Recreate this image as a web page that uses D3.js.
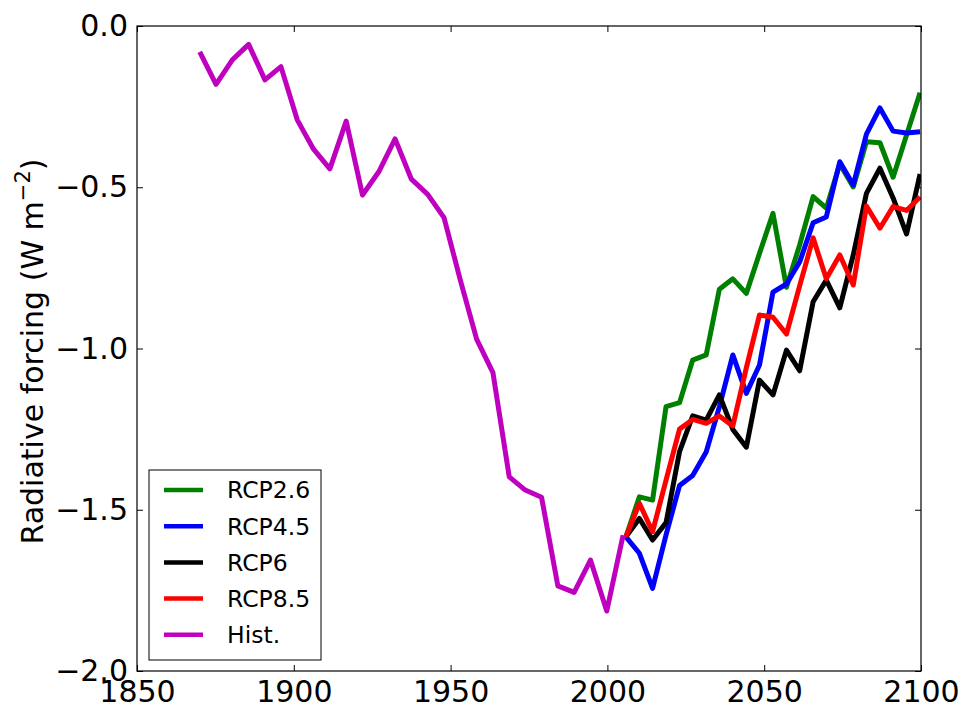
<!DOCTYPE html>
<html>
<head>
<meta charset="utf-8">
<script src="https://cdn.jsdelivr.net/npm/d3@7"></script>
<style>
  body { margin: 0; background: #fff; }
  text { font-family: "DejaVu Sans", sans-serif; }
</style>
</head>
<body>
<div id="container"></div>
<script>
// data
const histYears = [1870.0, 1875.2, 1880.4, 1885.6, 1890.8, 1895.9, 1901.1, 1906.3, 1911.5, 1916.7,
    1921.9, 1927.1, 1932.3, 1937.5, 1942.7, 1947.9, 1953.1, 1958.3, 1963.5, 1968.7,
    1973.8, 1979.0, 1984.2, 1989.4, 1994.6, 1999.8, 2005.0];
const histValues = [-0.080, -0.181, -0.105, -0.057, -0.167, -0.126, -0.291, -0.382, -0.443, -0.295,
    -0.524, -0.452, -0.350, -0.475, -0.522, -0.594, -0.788, -0.971, -1.075, -1.398,
    -1.439, -1.461, -1.736, -1.756, -1.656, -1.814, -1.579];

const rcpYears = [2005.9, 2010.2, 2014.4, 2018.7, 2023.0, 2027.2, 2031.5, 2035.7, 2040.0, 2044.3,
    2048.5, 2052.8, 2057.1, 2061.3, 2065.6, 2069.8, 2074.1, 2078.4, 2082.6, 2086.9,
    2091.1, 2095.4, 2099.7];
const rcp26 = [-1.584, -1.460, -1.470, -1.180, -1.168, -1.036, -1.020, -0.816, -0.784, -0.829,
    -0.705, -0.581, -0.810, -0.679, -0.529, -0.565, -0.428, -0.499, -0.359, -0.362,
    -0.469, -0.338, -0.207];
const rcp45 = [-1.584, -1.635, -1.744, -1.578, -1.425, -1.394, -1.321, -1.181, -1.020, -1.139,
    -1.051, -0.825, -0.800, -0.732, -0.610, -0.592, -0.421, -0.493, -0.335, -0.254,
    -0.326, -0.332, -0.328];
const rcp6 = [-1.584, -1.527, -1.594, -1.540, -1.320, -1.209, -1.222, -1.144, -1.251, -1.306,
    -1.098, -1.144, -1.005, -1.069, -0.855, -0.788, -0.874, -0.710, -0.519, -0.441,
    -0.533, -0.645, -0.459];
const rcp85 = [-1.584, -1.480, -1.568, -1.408, -1.250, -1.220, -1.232, -1.209, -1.240, -1.060,
    -0.896, -0.903, -0.955, -0.806, -0.657, -0.784, -0.710, -0.803, -0.558, -0.627,
    -0.560, -0.572, -0.530];

const xTicks = [1850, 1900, 1950, 2000, 2050, 2100];
const yTicks = [0, -0.5, -1.0, -1.5, -2.0];

const seriesNames = ["RCP2.6", "RCP4.5", "RCP6", "RCP8.5", "Hist."];
const seriesColors = ["#008000", "#0000ff", "#000000", "#ff0000", "#bf00bf"];

// Set up
const width = 965, height = 713;
const plotLeft = 137, plotRight = 921, plotTop = 26, plotBottom = 671;

const svg = d3.select("div#container").append("svg")
    .attr("width", width).attr("height", height);
svg.append("rect").attr("width", width).attr("height", height).attr("fill", "white");

const x = d3.scaleLinear().domain([1850, 2100]).range([plotLeft, plotRight]);
const y = d3.scaleLinear().domain([-2, 0]).range([plotBottom, plotTop]);

const fmt = d => d3.format(".1f")(d).replace("-", "\u2212");

svg.append("clipPath").attr("id", "plot-clip")
    .append("rect").attr("x", plotLeft).attr("y", plotTop)
    .attr("width", plotRight - plotLeft).attr("height", plotBottom - plotTop);

// lines
const series = [
    { name: "RCP2.6", years: rcpYears, values: rcp26 },
    { name: "RCP4.5", years: rcpYears, values: rcp45 },
    { name: "RCP6", years: rcpYears, values: rcp6 },
    { name: "RCP8.5", years: rcpYears, values: rcp85 },
    { name: "Hist.", years: histYears, values: histValues }
];
const color = d3.scaleOrdinal(seriesNames, seriesColors);

const line = d3.line()
    .x(d => x(d[0]))
    .y(d => y(d[1]));

svg.append("g")
    .attr("clip-path", "url(#plot-clip)")
    .selectAll("path")
    .data(series)
    .enter()
    .append("path")
    .attr("d", s => line(s.years.map((yr, i) => [yr, s.values[i]])))
    .attr("fill", "none")
    .attr("stroke", s => color(s.name))
    .attr("stroke-width", 5)
    .attr("stroke-linejoin", "round");

// axes, ticks pointing inward on all four sides
function styleAxis(g) {
    g.select(".domain").remove();
    g.selectAll("line").attr("stroke", "#000").attr("stroke-width", 1);
    g.selectAll("text").attr("fill", "#000").style("font-size", "30px")
        .style("font-family", "'DejaVu Sans', sans-serif");
}

svg.append("g")
    .attr("transform", `translate(0,${plotBottom})`)
    .call(d3.axisBottom(x).tickValues(xTicks).tickFormat(d3.format("d")).tickSize(-6).tickPadding(10))
    .call(styleAxis);

svg.append("g")
    .attr("transform", `translate(0,${plotTop})`)
    .call(d3.axisTop(x).tickValues(xTicks).tickSize(-6).tickFormat(""))
    .call(styleAxis);

svg.append("g")
    .attr("transform", `translate(${plotLeft},0)`)
    .call(d3.axisLeft(y).tickValues(yTicks).tickFormat(fmt).tickSize(-6).tickPadding(9))
    .call(styleAxis);

svg.append("g")
    .attr("transform", `translate(${plotRight},0)`)
    .call(d3.axisRight(y).tickValues(yTicks).tickSize(-6).tickFormat(""))
    .call(styleAxis);

// frame
svg.append("rect")
    .attr("x", plotLeft).attr("y", plotTop)
    .attr("width", plotRight - plotLeft).attr("height", plotBottom - plotTop)
    .attr("fill", "none").attr("stroke", "#000").attr("stroke-width", 1.2);

// y label
const ylab = svg.append("text")
    .attr("transform", `translate(43,${(plotTop + plotBottom) / 2 + 3}) rotate(-90)`)
    .attr("text-anchor", "middle")
    .style("font-size", "30px")
    .attr("fill", "#000");
ylab.append("tspan").text("Radiative forcing (W m");
ylab.append("tspan").attr("dy", -13).style("font-size", "21px").text("\u22122");
ylab.append("tspan").attr("dy", 13).text(")");

// legend
const legend = svg.append("g");
legend.append("rect")
    .attr("x", 149).attr("y", 470)
    .attr("width", 172).attr("height", 190)
    .attr("fill", "white").attr("stroke", "#000").attr("stroke-width", 1);

const item = legend.selectAll("g.item")
    .data(seriesNames)
    .enter()
    .append("g")
    .classed("item", true)
    .attr("transform", (d, i) => `translate(0,${490 + i * 36.2})`);

item.append("line")
    .attr("x1", 164).attr("x2", 203)
    .attr("stroke", d => color(d))
    .attr("stroke-width", 4.5);

item.append("text")
    .attr("x", 227)
    .attr("dy", "0.36em")
    .style("font-size", "23.5px")
    .attr("fill", "#000")
    .text(d => d);
</script>
</body>
</html>
